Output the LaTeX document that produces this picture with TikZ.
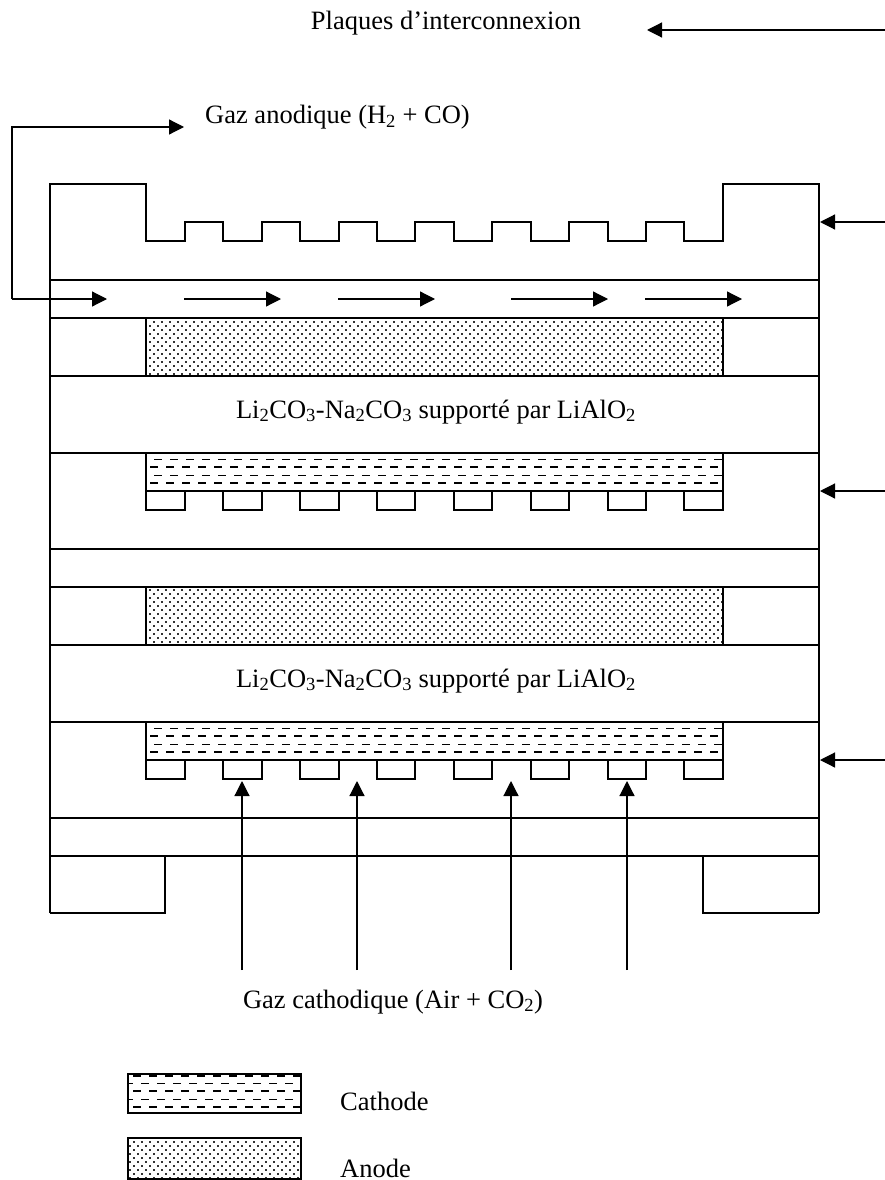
\documentclass[tikz,border=0pt]{standalone}
\usepackage{fontspec}
\setmainfont{Liberation Serif}
\usetikzlibrary{patterns,arrows.meta}
\newlength{\du}
\setlength{\du}{1pt}
\pgfdeclarepatternformonly{anodedots}{\pgfpoint{-1pt}{-1pt}}{\pgfpoint{9pt}{9pt}}{\pgfpoint{8pt}{8pt}}{
\pgfpathrectangle{\pgfpoint{1.2pt}{1.2pt}}{\pgfpoint{1.6pt}{1.6pt}}
\pgfpathrectangle{\pgfpoint{5.2pt}{5.2pt}}{\pgfpoint{1.6pt}{1.6pt}}
\pgfusepath{fill}
}
\tikzset{
wall/.style={line width=1.5pt,line join=miter},
thinrow/.style={line width=0.9pt,dash pattern=on 8pt off 8pt},
thickrow/.style={line width=1.8pt,dash pattern=on 8pt off 8pt},
anodeband/.style={wall,pattern=anodedots,pattern color=black!80},
flow/.style={line width=1.2pt,-{Triangle[length=15pt,width=15pt]}},
label/.style={inner sep=0pt,anchor=base,font=\fontsize{26.5}{30}\selectfont}
}
\newcommand{\sbs}[1]{\textsubscript{#1}}
\begin{document}
\begin{tikzpicture}
\pgftransformxscale{1.000000}
\pgftransformyscale{-1.000000}
\useasboundingbox (0\du,0\du) rectangle (885\du,1180\du);
% hatched layers first
\draw[anodeband] (146\du,318\du) rectangle (723\du,376\du);
\draw[anodeband] (146\du,587\du) rectangle (723\du,645\du);
\draw[anodeband] (128\du,1138\du) rectangle (301\du,1179\du);
\begin{scope}
\clip (146\du,453\du) rectangle (723\du,491\du);
\draw[thinrow] (138\du,459\du)--(723\du,459\du);
\draw[thickrow] (150\du,467\du)--(723\du,467\du);
\draw[thinrow] (138\du,475\du)--(723\du,475\du);
\draw[thickrow] (150\du,483\du)--(723\du,483\du);
\end{scope}
\draw[wall] (146\du,453\du) rectangle (723\du,491\du);
\begin{scope}
\clip (146\du,722\du) rectangle (723\du,760\du);
\draw[thinrow] (138\du,728\du)--(723\du,728\du);
\draw[thickrow] (150\du,736\du)--(723\du,736\du);
\draw[thinrow] (138\du,744\du)--(723\du,744\du);
\draw[thickrow] (150\du,752\du)--(723\du,752\du);
\end{scope}
\draw[wall] (146\du,722\du) rectangle (723\du,760\du);
\begin{scope}
\clip (128\du,1074\du) rectangle (301\du,1113\du);
\draw[thickrow] (133\du,1076\du)--(301\du,1076\du);
\draw[thinrow] (125\du,1083\du)--(301\du,1083\du);
\draw[thickrow] (133\du,1091\du)--(301\du,1091\du);
\draw[thinrow] (125\du,1099\du)--(301\du,1099\du);
\draw[thickrow] (133\du,1107\du)--(301\du,1107\du);
\end{scope}
\draw[wall] (128\du,1074\du) rectangle (301\du,1113\du);
% top plate
\draw[wall] (50\du,913\du)--(50\du,184\du)--(146\du,184\du)--(146\du,241\du)--(185\du,241\du)--(185\du,222\du)--(223\du,222\du)--(223\du,241\du)--(262\du,241\du)--(262\du,222\du)--(300\du,222\du)--(300\du,241\du)--(339\du,241\du)--(339\du,222\du)--(377\du,222\du)--(377\du,241\du)--(415\du,241\du)--(415\du,222\du)--(454\du,222\du)--(454\du,241\du)--(492\du,241\du)--(492\du,222\du)--(531\du,222\du)--(531\du,241\du)--(569\du,241\du)--(569\du,222\du)--(608\du,222\du)--(608\du,241\du)--(646\du,241\du)--(646\du,222\du)--(684\du,222\du)--(684\du,241\du)--(723\du,241\du)--(723\du,184\du)--(819\du,184\du)--(819\du,913\du);
% layers
\draw[wall] (50\du,280\du)--(819\du,280\du);
\draw[wall] (50\du,318\du)--(819\du,318\du);
\draw[wall] (50\du,376\du)--(819\du,376\du);
\draw[wall] (50\du,453\du)--(819\du,453\du);
\draw[wall] (50\du,549\du)--(819\du,549\du);
\draw[wall] (50\du,587\du)--(819\du,587\du);
\draw[wall] (50\du,645\du)--(819\du,645\du);
\draw[wall] (50\du,722\du)--(819\du,722\du);
\draw[wall] (50\du,818\du)--(819\du,818\du);
\draw[wall] (50\du,856\du)--(819\du,856\du);
% teeth under the cathodes
\draw[wall] (146\du,491\du) rectangle (185\du,510\du);
\draw[wall] (223\du,491\du) rectangle (262\du,510\du);
\draw[wall] (300\du,491\du) rectangle (339\du,510\du);
\draw[wall] (377\du,491\du) rectangle (415\du,510\du);
\draw[wall] (454\du,491\du) rectangle (492\du,510\du);
\draw[wall] (531\du,491\du) rectangle (569\du,510\du);
\draw[wall] (608\du,491\du) rectangle (646\du,510\du);
\draw[wall] (684\du,491\du) rectangle (723\du,510\du);
\draw[wall] (146\du,760\du) rectangle (185\du,779\du);
\draw[wall] (223\du,760\du) rectangle (262\du,779\du);
\draw[wall] (300\du,760\du) rectangle (339\du,779\du);
\draw[wall] (377\du,760\du) rectangle (415\du,779\du);
\draw[wall] (454\du,760\du) rectangle (492\du,779\du);
\draw[wall] (531\du,760\du) rectangle (569\du,779\du);
\draw[wall] (608\du,760\du) rectangle (646\du,779\du);
\draw[wall] (684\du,760\du) rectangle (723\du,779\du);
% feet
\draw[wall] (50\du,913\du)--(165\du,913\du)--(165\du,856\du);
\draw[wall] (819\du,913\du)--(703\du,913\du)--(703\du,856\du);
% texts
\node[label] (plaques) at (446\du,30\du){Plaques d’interconnexion};
\node[label,anchor=base west] (gazanode) at (205\du,123.5\du){Gaz anodique (H\sbs{2} + CO)};
\node[label] (electroa) at (436\du,418\du){Li\sbs{2}CO\sbs{3}-Na\sbs{2}CO\sbs{3} supporté par LiAlO\sbs{2}};
\node[label] (electrob) at (436\du,687\du){Li\sbs{2}CO\sbs{3}-Na\sbs{2}CO\sbs{3} supporté par LiAlO\sbs{2}};
\node[label] (gazcathode) at (393\du,1008\du){Gaz cathodique (Air + CO\sbs{2})};
\node[label,anchor=base west] (cathode) at (340\du,1110\du){Cathode};
\node[label,anchor=base west] (anode) at (340\du,1177\du){Anode};
% arrow ends
\coordinate (plaquesin) at (885\du,30\du);
\coordinate (plaquestip) at (647\du,30\du);
\coordinate (plateain) at (885\du,222\du);
\coordinate (plateatip) at (820\du,222\du);
\coordinate (platebin) at (885\du,491\du);
\coordinate (platebtip) at (820\du,491\du);
\coordinate (platecin) at (885\du,760\du);
\coordinate (plateCtip) at (820\du,760\du);
\coordinate (anodein) at (12\du,299\du);
\coordinate (anodeup) at (12\du,127\du);
\coordinate (anodeout) at (184\du,127\du);
\coordinate (anodetip) at (107\du,299\du);
\coordinate (flowa) at (184\du,299\du);
\coordinate (flowatip) at (281\du,299\du);
\coordinate (flowb) at (338\du,299\du);
\coordinate (flowbtip) at (435\du,299\du);
\coordinate (flowc) at (511\du,299\du);
\coordinate (flowctip) at (608\du,299\du);
\coordinate (flowd) at (645\du,299\du);
\coordinate (flowdtip) at (742\du,299\du);
\coordinate (aira) at (242\du,970\du);
\coordinate (airatip) at (242\du,781\du);
\coordinate (airb) at (357\du,970\du);
\coordinate (airbtip) at (357\du,781\du);
\coordinate (airc) at (511\du,970\du);
\coordinate (airctip) at (511\du,781\du);
\coordinate (aird) at (627\du,970\du);
\coordinate (airdtip) at (627\du,781\du);
% arrows
\draw[flow] (plaquesin)--(plaquestip);
\draw[flow] (plateain)--(plateatip);
\draw[flow] (platebin)--(platebtip);
\draw[flow] (platecin)--(plateCtip);
\draw[flow] (anodein)--(anodeup)--(anodeout);
\draw[flow] (anodein)--(anodetip);
\draw[flow] (flowa)--(flowatip);
\draw[flow] (flowb)--(flowbtip);
\draw[flow] (flowc)--(flowctip);
\draw[flow] (flowd)--(flowdtip);
\draw[flow] (aira)--(airatip);
\draw[flow] (airb)--(airbtip);
\draw[flow] (airc)--(airctip);
\draw[flow] (aird)--(airdtip);
\end{tikzpicture}
\end{document}
